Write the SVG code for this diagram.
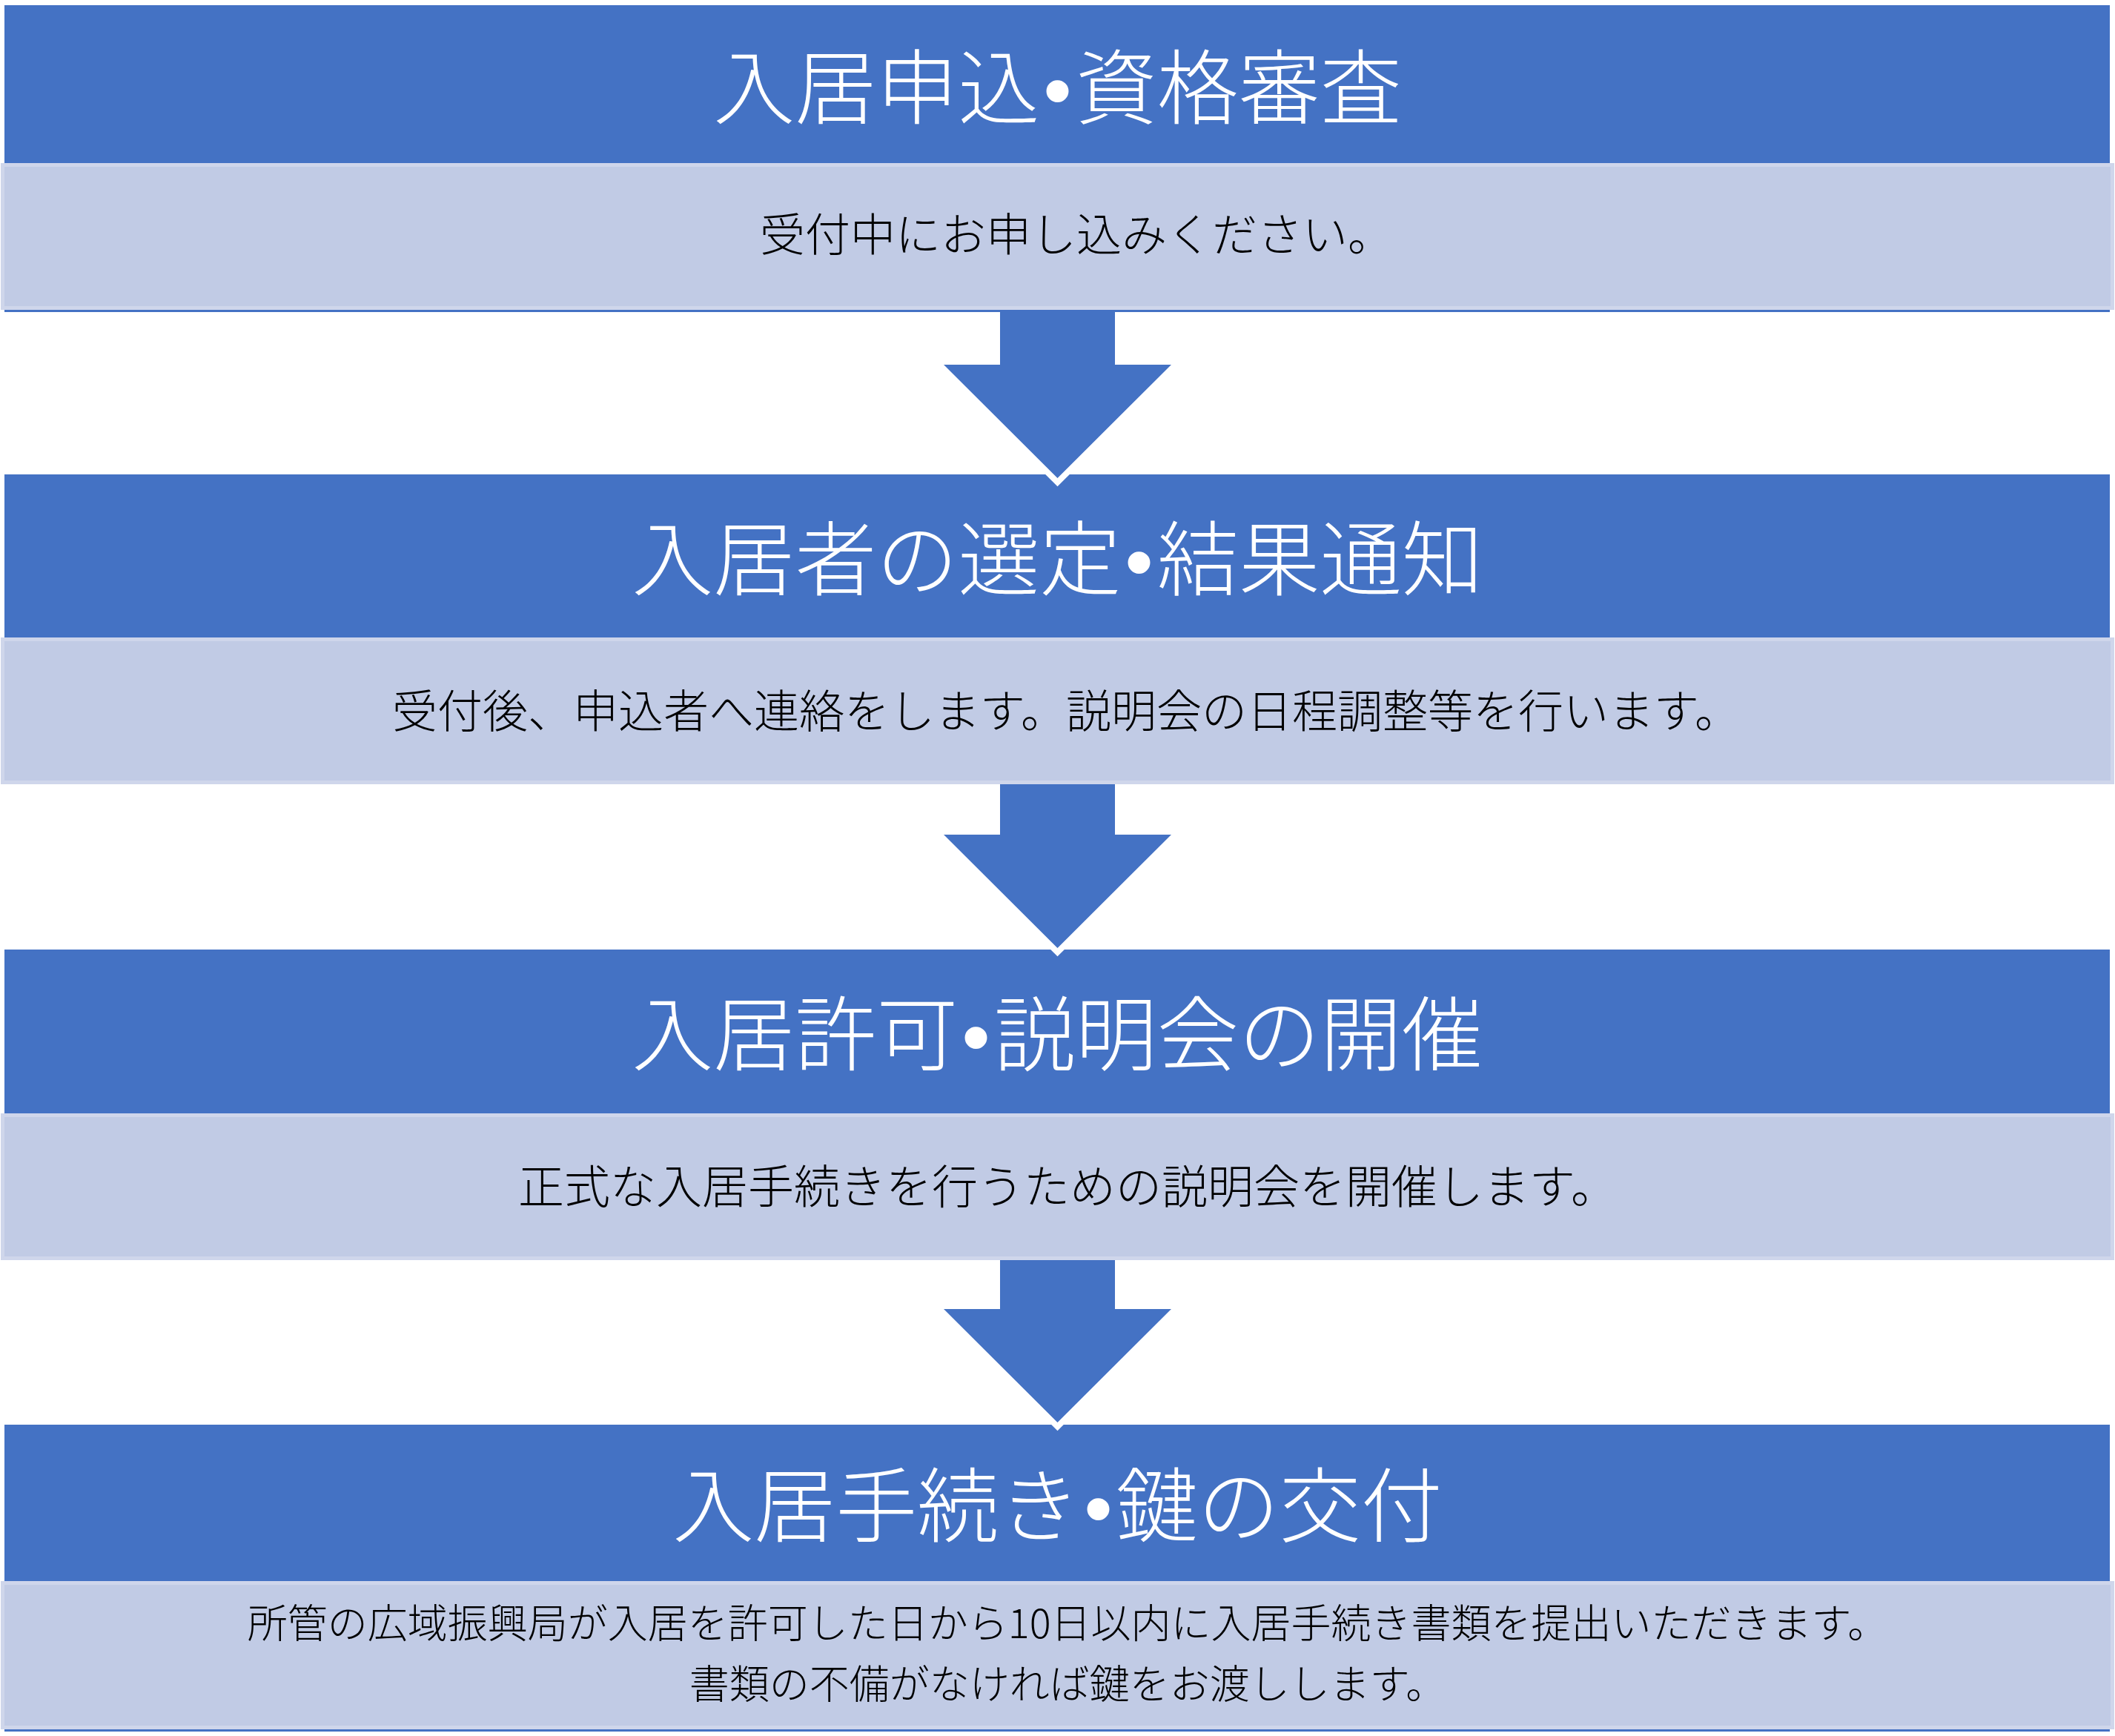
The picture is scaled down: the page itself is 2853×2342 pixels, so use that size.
<svg xmlns="http://www.w3.org/2000/svg" width="2853" height="2342" viewBox="0 0 2853 2342">
<style>
.hdr{fill:#4472C4}
.body{fill:#C1CBE5;stroke:#CFD6EB;stroke-width:5}
.bline{fill:#4472C4}
.title{font-family:"Noto Sans CJK JP","Noto Sans CJK SC",sans-serif;font-size:110px;font-weight:300;fill:#FFFFFF;text-anchor:middle}
.dot{font-family:"Liberation Sans",Arial,sans-serif;font-weight:400}
.txt{font-family:"Noto Sans CJK JP","Noto Sans CJK SC",sans-serif;font-size:61px;font-weight:300;fill:#000000;text-anchor:middle}
.txt4{font-family:"Noto Sans CJK JP","Noto Sans CJK SC",sans-serif;font-size:54px;font-weight:300;fill:#000000;text-anchor:middle}
.arrow{fill:#4472C4}
.halo{fill:#FFFFFF}
</style>
<rect width="2853" height="2342" fill="#FFFFFF"/>
<g id="node1">
<rect class="hdr" x="6" y="7" width="2840" height="213"/>
<rect class="bline" x="6" y="416" width="2840" height="5"/>
<rect class="body" x="3.5" y="222.5" width="2846" height="193"/>
<text class="title" x="1426.5" y="159">入居申込<tspan class="dot" dx="5">•</tspan><tspan dx="5">資格審査</tspan></text>
<text class="txt" x="1452" y="339">受付中にお申し込みください。</text>
</g>
<g id="node2">
<rect class="hdr" x="6" y="640" width="2840" height="220"/>
<rect class="body" x="3.5" y="862.5" width="2846" height="193"/>
<text class="title" x="1426.5" y="795">入居者の選定<tspan class="dot" dx="5">•</tspan><tspan dx="5">結果通知</tspan></text>
<text class="txt" x="1438" y="982">受付後、申込者へ連絡をします。説明会の日程調整等を行います。</text>
</g>
<g id="node3">
<rect class="hdr" x="6" y="1281" width="2840" height="221"/>
<rect class="body" x="3.5" y="1504.5" width="2846" height="193"/>
<text class="title" x="1426.5" y="1436">入居許可<tspan class="dot" dx="5">•</tspan><tspan dx="5">説明会の開催</tspan></text>
<text class="txt" x="1440" y="1624" style="font-size:62px">正式な入居手続きを行うための説明会を開催します。</text>
</g>
<g id="node4">
<rect class="hdr" x="6" y="1922" width="2840" height="211"/>
<rect class="bline" x="6" y="2330" width="2840" height="6"/>
<rect class="body" x="3.5" y="2135.5" width="2846" height="195"/>
<text class="title" x="1426.5" y="2072">入居手続き<tspan class="dot" dx="5">•</tspan><tspan dx="5">鍵の交付</tspan></text>
<text class="txt4" x="1440" y="2210">所管の広域振興局が入居を許可した日から10日以内に入居手続き書類を提出いただきます。</text>
<text class="txt4" x="1440" y="2292">書類の不備がなければ鍵をお渡しします。</text>
</g>
<g id="connectors">
<g id="arrow1">
<polygon class="halo" points="1261.7,492 1591.3,492 1426.5,656.3"/>
<polygon class="arrow" points="1349,418 1504,418 1504,492 1580,492 1426.5,645 1273,492 1349,492"/>
</g>
<g id="arrow2">
<polygon class="halo" points="1261.7,1126 1591.3,1126 1426.5,1290.3"/>
<polygon class="arrow" points="1349,1058 1504,1058 1504,1126 1580,1126 1426.5,1279 1273,1126 1349,1126"/>
</g>
<g id="arrow3">
<polygon class="halo" points="1261.7,1766 1591.3,1766 1426.5,1930.3"/>
<polygon class="arrow" points="1349,1700 1504,1700 1504,1766 1580,1766 1426.5,1919 1273,1766 1349,1766"/>
</g>
</g>
</svg>
